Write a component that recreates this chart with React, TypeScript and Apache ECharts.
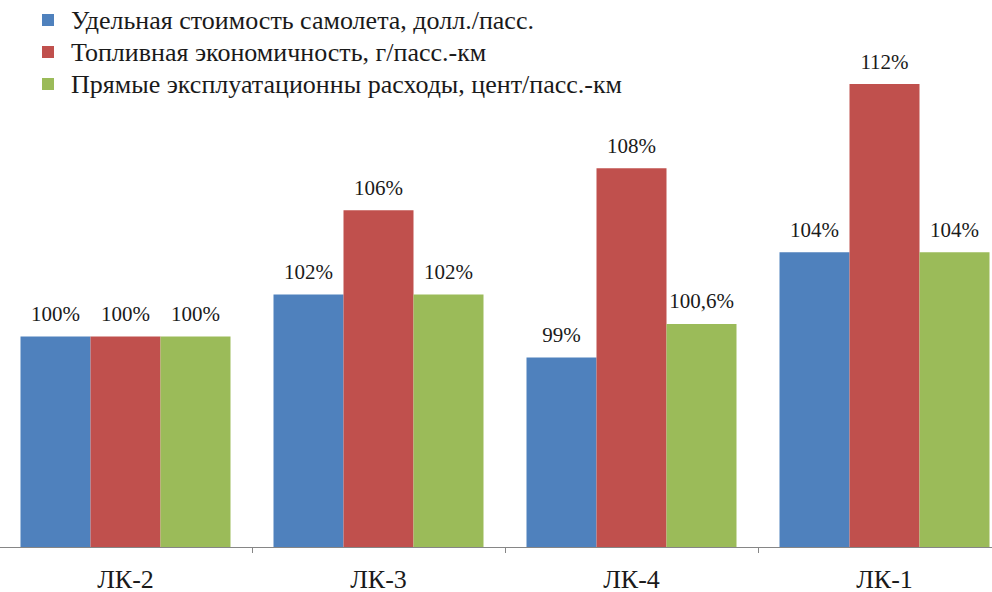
import React, { useEffect, useRef } from "react";
import * as echarts from "echarts";

const categories = ["ЛК-2", "ЛК-3", "ЛК-4", "ЛК-1"];
const seriesNames = [
  "Удельная стоимость самолета, долл./пасс.",
  "Топливная экономичность, г/пасс.-км",
  "Прямые эксплуатационны расходы, цент/пасс.-км",
];
const unitCost = [100, 102, 99, 104];
const fuelEconomy = [100, 106, 108, 112];
const directCosts = [100, 102, 100.6, 104];
const colors = ["#4F81BD", "#C0504D", "#9BBB59"];

const FONT = "'Liberation Serif', 'Times New Roman', serif";

export default function App() {
  const ref = useRef<HTMLDivElement>(null);
  useEffect(() => {
    if (!ref.current) return;
    const chart = echarts.init(ref.current, null, { renderer: "svg" });
    const values = [unitCost, fuelEconomy, directCosts];
    const fmt = (p: any) => String(p.value).replace(".", ",") + "%";
    chart.setOption({
      animation: false,
      textStyle: { fontFamily: FONT },
      legend: {
        orient: "vertical",
        left: 38,
        top: 2,
        itemWidth: 12,
        itemHeight: 12,
        itemGap: 6,
        icon: "rect",
        data: seriesNames,
        textStyle: {
          fontFamily: FONT,
          fontSize: 26,
          color: "#1a1a1a",
          padding: [0, 0, 0, 12],
        },
      },
      grid: { left: 0, right: 0, top: 84, bottom: 45 },
      xAxis: {
        type: "category",
        data: categories,
        axisLine: { lineStyle: { color: "#868686", width: 1 } },
        axisTick: { show: true, length: 6, lineStyle: { color: "#868686" } },
        axisLabel: {
          fontFamily: FONT,
          fontSize: 26,
          color: "#1a1a1a",
          margin: 19,
        },
      },
      yAxis: {
        type: "value",
        min: 90,
        max: 112,
        show: false,
        splitLine: { show: false },
      },
      series: seriesNames.map((name, i) => ({
        name,
        type: "bar",
        data: values[i],
        barWidth: 70,
        barGap: "0%",
        itemStyle: { color: colors[i] },
        label: {
          show: true,
          position: "top",
          distance: 12,
          formatter: fmt,
          fontFamily: FONT,
          fontSize: 21,
          color: "#1a1a1a",
        },
      })),
    });
    return () => chart.dispose();
  }, []);
  return (
    <div
      style={{
        position: "absolute",
        left: 0,
        top: 0,
        width: 992,
        height: 592,
        overflow: "hidden",
      }}
    >
      <div
        ref={ref}
        style={{ position: "absolute", left: -1, top: 0, width: 1012, height: 592 }}
      />
    </div>
  );
}
